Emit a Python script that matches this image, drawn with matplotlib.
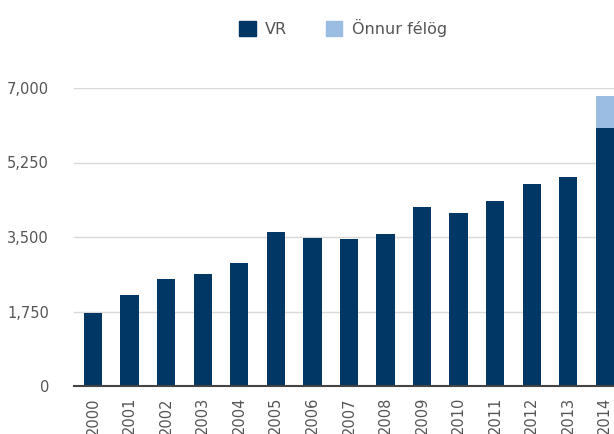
import matplotlib
matplotlib.use("Agg")
import matplotlib.pyplot as plt
from matplotlib.patches import Patch

years = ["2000", "2001", "2002", "2003", "2004", "2005", "2006", "2007",
         "2008", "2009", "2010", "2011", "2012", "2013", "2014"]
vr = [1710, 2140, 2520, 2630, 2880, 3610, 3470, 3445, 3580, 4210, 4070,
      4350, 4740, 4910, 6060]
other = [0, 0, 0, 0, 0, 0, 0, 0, 0, 0, 0, 0, 0, 0, 750]
yticks = [0, 1750, 3500, 5250, 7000]
ytick_labels = ["0", "1,750", "3,500", "5,250", "7,000"]

c_vr = "#003764"
c_other = "#9bbde4"
txt = "#555555"

fig = plt.figure(figsize=(6.14, 4.34), dpi=100)
ax = fig.add_axes([74/614, 48/434, 1 - 74/614, (386-88)/434])

x = list(range(len(years)))
ax.bar(x, vr, width=0.5, color=c_vr, zorder=3)
ax.bar(x, other, width=0.5, bottom=vr, color=c_other, zorder=3)

ax.set_xlim(-0.52, 14.25)
ax.set_ylim(0, 7000)
ax.set_yticks(yticks)
ax.set_yticklabels(ytick_labels)
ax.set_xticks(x)
ax.set_xticklabels(years, rotation=90)
ax.tick_params(axis="y", length=0, pad=18, labelsize=10.5, labelcolor=txt)
ax.tick_params(axis="x", length=0, pad=8, labelsize=10.5, labelcolor=txt)
ax.yaxis.grid(True, color="#d9d9d9", linewidth=1, zorder=0)
for s in ["top", "right", "left"]:
    ax.spines[s].set_visible(False)
ax.spines["bottom"].set_color("#444444")
ax.spines["bottom"].set_linewidth(1.5)
ax.spines["bottom"].set_zorder(4)

handles = [Patch(color=c_vr, label="VR"), Patch(color=c_other, label="Önnur félög")]
fig.legend(handles=handles, loc="center", bbox_to_anchor=(343/614, 1 - 28/434),
           ncol=2, frameon=False, handlelength=1.05, handleheight=1.05,
           handletextpad=0.6, columnspacing=2.4, fontsize=11.5,
           labelcolor=txt)

fig.savefig("out.png", dpi=100)
